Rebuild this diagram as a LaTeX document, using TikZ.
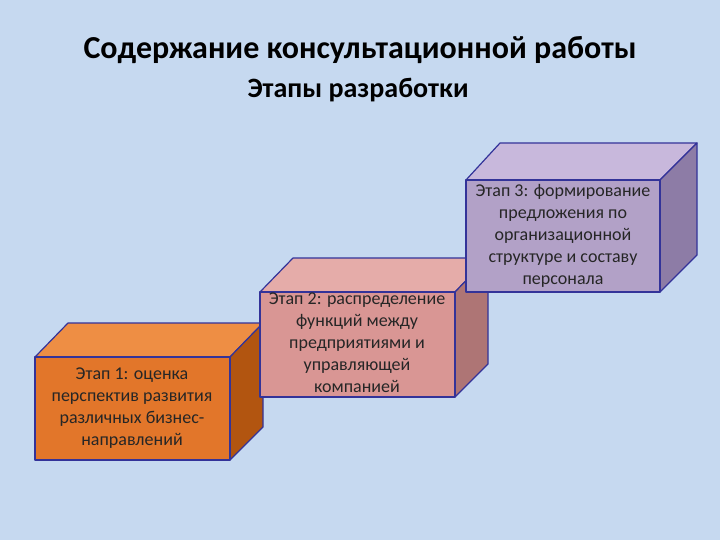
\documentclass[tikz,border=0pt]{standalone}
\usepackage{fontspec}
\setmainfont{Carlito}
\begin{document}
\begin{tikzpicture}[x=1pt,y=-1pt,
  edge/.style={draw=blue!50!black!80,line width=1.2pt,line join=round},
  lbl/.style={align=center,font=\fontsize{18}{22}\selectfont,text=black!85}]
\definecolor{bg}{HTML}{C6D9F0}
\fill[bg] (0,0) rectangle (720,540);
\node[font=\bfseries\fontsize{32}{36}\selectfont] (t1) at (360,50) {Содержание консультационной работы};
\node[font=\bfseries\fontsize{28}{32}\selectfont] (t2) at (358,90) {Этапы разработки};
% box 1
\definecolor{af}{HTML}{E2762A}\definecolor{at}{HTML}{EE8E44}\definecolor{as}{HTML}{B25510}
\filldraw[edge,fill=at] (35,357) -- (68,323) -- (263,323) -- (230,357) -- cycle;
\filldraw[edge,fill=as] (230,357) -- (263,323) -- (263,427) -- (230,460) -- cycle;
\filldraw[edge,fill=af] (35,357) rectangle (230,460);
\node[lbl] (b1) at (132,408) {Этап 1: оценка\\перспектив развития\\различных бизнес-\\направлений};
% box 2
\definecolor{bf}{HTML}{D99694}\definecolor{bt}{HTML}{E5ACA9}\definecolor{bs}{HTML}{AE7575}
\filldraw[edge,fill=bt] (260,292) -- (293,258) -- (488,258) -- (455,292) -- cycle;
\filldraw[edge,fill=bs] (455,292) -- (488,258) -- (488,364) -- (455,397) -- cycle;
\filldraw[edge,fill=bf] (260,292) rectangle (455,397);
\node[lbl] (b2) at (357,343) {Этап 2: распределение\\функций между\\предприятиями и\\управляющей\\компанией};
% box 3
\definecolor{cf}{HTML}{B2A1C7}\definecolor{ct}{HTML}{C8B8DC}\definecolor{cs}{HTML}{8D7CA6}
\filldraw[edge,fill=ct] (466,180) -- (500,143) -- (697,143) -- (660,180) -- cycle;
\filldraw[edge,fill=cs] (660,180) -- (697,143) -- (697,255) -- (660,292) -- cycle;
\filldraw[edge,fill=cf] (466,180) rectangle (660,292);
\node[lbl] (b3) at (563,236) {Этап 3: формирование\\предложения по\\организационной\\структуре и составу\\персонала};
\end{tikzpicture}
\end{document}
